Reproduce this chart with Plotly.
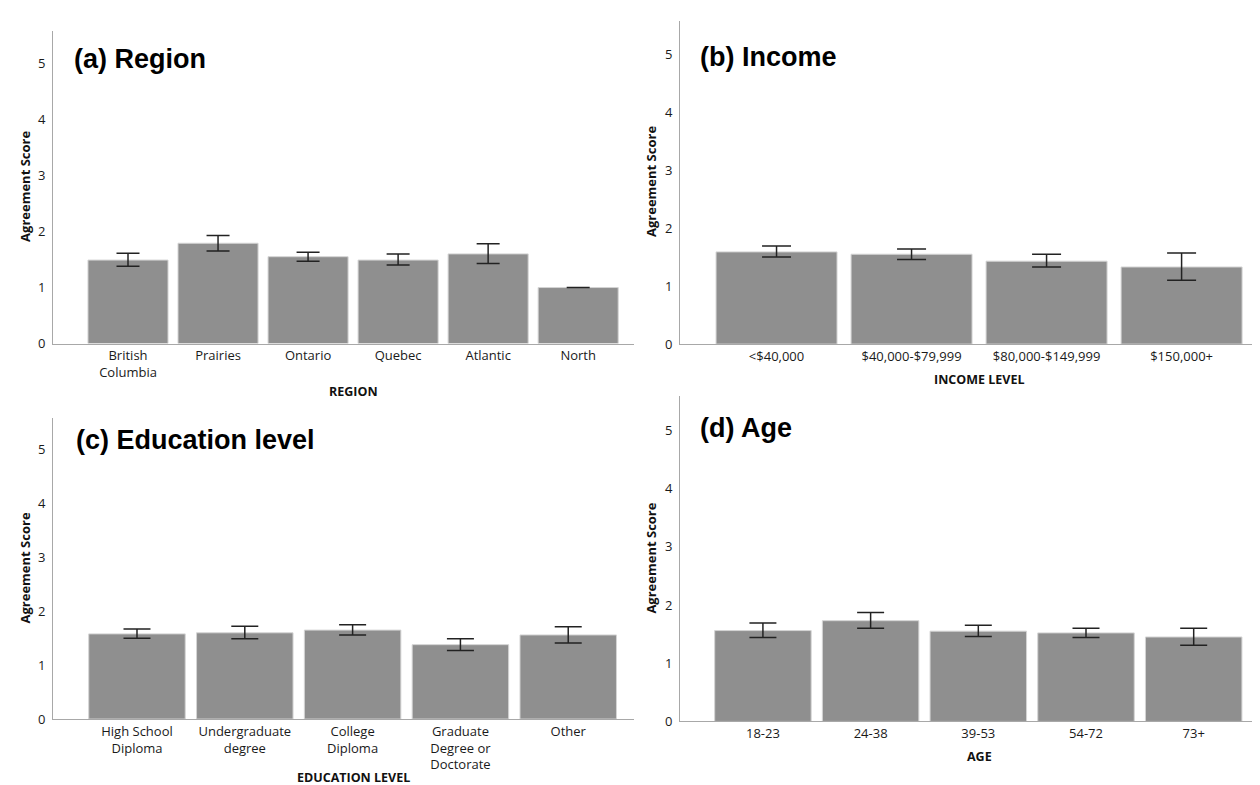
import plotly.graph_objects as go

W, H = 1260, 785

# ---------------- data ----------------
region_cats = ["British<br>Columbia", "Prairies", "Ontario", "Quebec", "Atlantic", "North"]
region_mean = [1.49, 1.79, 1.55, 1.49, 1.60, 1.00]
region_hi = [1.61, 1.93, 1.63, 1.60, 1.78, 1.00]
region_lo = [1.38, 1.65, 1.47, 1.40, 1.43, 1.00]

income_cats = ["<$40,000", "$40,000-$79,999", "$80,000-$149,999", "$150,000+"]
income_mean = [1.59, 1.55, 1.43, 1.33]
income_hi = [1.69, 1.64, 1.55, 1.57]
income_lo = [1.50, 1.46, 1.33, 1.10]

edu_cats = ["High School<br>Diploma", "Undergraduate<br>degree", "College<br>Diploma",
            "Graduate<br>Degree or<br>Doctorate", "Other"]
edu_mean = [1.58, 1.60, 1.65, 1.38, 1.56]
edu_hi = [1.67, 1.72, 1.75, 1.49, 1.71]
edu_lo = [1.50, 1.49, 1.56, 1.27, 1.41]

age_cats = ["18-23", "24-38", "39-53", "54-72", "73+"]
age_mean = [1.56, 1.73, 1.55, 1.52, 1.45]
age_hi = [1.69, 1.87, 1.65, 1.60, 1.60]
age_lo = [1.44, 1.60, 1.46, 1.44, 1.31]

y_ticks = [0, 1, 2, 3, 4, 5]

panels = [
    dict(cats=region_cats, mean=region_mean, hi=region_hi, lo=region_lo,
         label="(a) Region", xtitle="REGION"),
    dict(cats=income_cats, mean=income_mean, hi=income_hi, lo=income_lo,
         label="(b) Income", xtitle="INCOME LEVEL"),
    dict(cats=edu_cats, mean=edu_mean, hi=edu_hi, lo=edu_lo,
         label="(c) Education level", xtitle="EDUCATION LEVEL"),
    dict(cats=age_cats, mean=age_mean, hi=age_hi, lo=age_lo,
         label="(d) Age", xtitle="AGE"),
]

# ---------------- layout geometry (pixels) ----------------
geo = [
    dict(x0=45, x1=626, yb=339.5, yt=23, xr=[-0.833, 5.62], bw=0.889, cap=11.5,
         lab=(64, 52), xt=(345, 388), yt_t=(17, 181)),
    dict(x0=672, x1=1260, yb=340, yt=12.7, xr=[-0.715, 3.64], bw=0.896, cap=14.5,
         lab=(690, 50), xt=(971, 376), yt_t=(643, 176)),
    dict(x0=45, x1=626, yb=719.3, yt=415, xr=[-0.779, 4.61], bw=0.895, cap=13.5,
         lab=(66, 437), xt=(345, 778), yt_t=(17, 567)),
    dict(x0=672, x1=1260, yb=721.7, yt=393, xr=[-0.77, 4.69], bw=0.896, cap=13.5,
         lab=(690, 425), xt=(971, 757), yt_t=(643, 557)),
]

TICK_FONT = dict(family="Open Sans, Noto Sans, sans-serif", size=13, color="#1a1a1a")
TITLE_FONT = dict(family="Open Sans, Noto Sans, sans-serif", size=12.5, color="#111111")
YTITLE_FONT = dict(family="Open Sans, Noto Sans, sans-serif", size=13, color="#111111")

fig = go.Figure()
layout = dict(
    width=W, height=H,
    margin=dict(l=0, r=0, t=0, b=0),
    paper_bgcolor="white", plot_bgcolor="white",
    showlegend=False,
    annotations=[],
)

for i, (p, g) in enumerate(zip(panels, geo)):
    n = i + 1
    xa = "x" if n == 1 else f"x{n}"
    ya = "y" if n == 1 else f"y{n}"
    plus = [h - m for h, m in zip(p["hi"], p["mean"])]
    minus = [m - l for m, l in zip(p["mean"], p["lo"])]
    fig.add_trace(go.Bar(
        x=p["cats"], y=p["mean"], xaxis=xa, yaxis=ya,
        width=g["bw"],
        marker=dict(color="#8f8f8f", line=dict(color="#d4d4d4", width=1)),
        error_y=dict(type="data", symmetric=False, array=plus, arrayminus=minus,
                     color="#222222", thickness=1.5, width=g["cap"]),
        hoverinfo="skip",
    ))
    xkey = "xaxis" if n == 1 else f"xaxis{n}"
    ykey = "yaxis" if n == 1 else f"yaxis{n}"
    layout[xkey] = dict(
        domain=[g["x0"] / W, g["x1"] / W], anchor=ya, type="category",
        range=g["xr"], showline=True, linecolor="#a8a8a8", linewidth=1,
        showgrid=False, zeroline=False, ticks="", tickfont=TICK_FONT,
        fixedrange=True,
    )
    layout[ykey] = dict(
        domain=[1 - g["yb"] / H, 1 - g["yt"] / H], anchor=xa,
        range=[0, 5.58], tickvals=y_ticks, showline=True, linecolor="#a8a8a8",
        linewidth=1, showgrid=False, zeroline=False, ticks="",
        tickfont=TICK_FONT, ticklabelstandoff=4, fixedrange=True,
    )
    layout["annotations"].append(dict(
        text=f"<b>{p['label']}</b>", xref="paper", yref="paper",
        x=g["lab"][0] / W, y=1 - g["lab"][1] / H, xanchor="left", yanchor="middle",
        showarrow=False,
        font=dict(family="Liberation Sans, Arial, sans-serif", size=27, color="black"),
    ))
    layout["annotations"].append(dict(
        text=f"<b>{p['xtitle']}</b>", xref="paper", yref="paper",
        x=g["xt"][0] / W, y=1 - g["xt"][1] / H, xanchor="center", yanchor="middle",
        showarrow=False, font=TITLE_FONT,
    ))
    layout["annotations"].append(dict(
        text="<b>Agreement Score</b>", xref="paper", yref="paper",
        x=g["yt_t"][0] / W, y=1 - g["yt_t"][1] / H, xanchor="center", yanchor="middle",
        textangle=-90, showarrow=False, font=YTITLE_FONT,
    ))

fig.update_layout(**layout)
fig.write_html("out.html")
